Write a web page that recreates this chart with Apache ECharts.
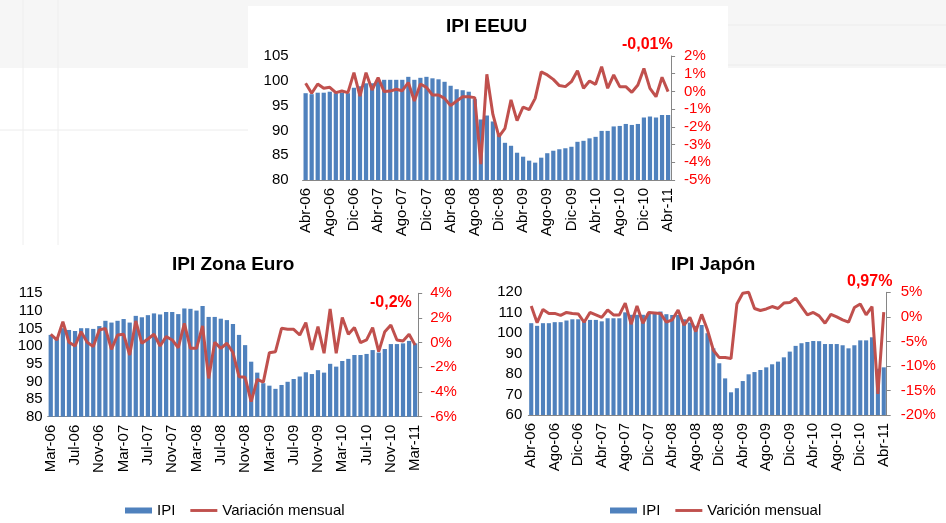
<!DOCTYPE html>
<html>
<head>
<meta charset="utf-8">
<title>IPI</title>
<script src="https://cdn.jsdelivr.net/npm/echarts@6/dist/echarts.min.js"></script>
<style>
html, body { margin: 0; padding: 0; background: #fff; }
#chart { width: 946px; height: 523px; }
</style>
</head>
<body>
<div id="chart"></div>
<script>
// meses en castellano para las etiquetas del eje
const mesesEs = ['Ene', 'Feb', 'Mar', 'Abr', 'May', 'Jun', 'Jul', 'Ago', 'Sep', 'Oct', 'Nov', 'Dic'];
function meses(mesIni, anioIni, n) {
  const out = [];
  for (let i = 0; i < n; i++) {
    const m = (mesIni + i) % 12;
    const a = anioIni + Math.floor((mesIni + i) / 12);
    out.push(mesesEs[m] + '-' + String(a).slice(2));
  }
  return out;
}
const catAbr = meses(3, 2006, 61); // Abr-06 .. Abr-11
const catMar = meses(2, 2006, 61); // Mar-06 .. Mar-11

// EEUU
const usaIpi = [97.5, 97.3, 97.6, 97.6, 97.8, 97.5, 97.6, 97.5, 98.6, 98.9,
  99.5, 99.5, 100.2, 100.2, 100.2, 100.2, 100.2, 100.8, 100.2, 100.6,
  100.8, 100.5, 100.3, 99.8, 99.0, 98.3, 98.1, 97.8, 96.3, 92.2,
  93.0, 91.8, 89.2, 87.5, 86.9, 85.5, 84.7, 83.9, 83.5, 84.5,
  85.4, 85.9, 86.2, 86.4, 86.7, 87.7, 87.9, 88.4, 88.7, 89.9,
  89.9, 90.8, 90.9, 91.3, 91.1, 91.3, 92.6, 92.8, 92.6, 93.1, 93.1];
const usaVar = [0.46, -0.1, 0.42, 0.18, 0.23, -0.07, 0.02, -0.07, 1.06, -0.26,
  1.06, 0.08, 0.78, -0.01, 0.02, 0.12, 0.04, 0.5, -0.54, 0.42,
  0.23, -0.2, -0.2, -0.39, -0.8, -0.54, -0.3, -0.3, -0.35, -4.1,
  0.97, -1.3, -2.55, -2.08, -0.48, -1.65, -0.88, -1.03, -0.39, 1.1,
  0.93, 0.68, 0.33, 0.27, 0.55, 1.17, 0.18, 0.59, 0.4, 1.4,
  0.18, 0.93, 0.27, 0.27, -0.05, 0.36, 1.3, 0.17, -0.3, 0.8, -0.01];

// Zona Euro
const euroIpi = [103.2, 102.4, 105.1, 104.6, 104.3, 105.1, 105.1, 104.9, 105.7, 107.2,
  106.7, 107.2, 107.7, 106.7, 108.6, 108.2, 108.8, 109.3, 109.0, 109.7,
  109.7, 109.1, 110.7, 110.6, 110.1, 111.4, 108.3, 108.3, 107.8, 107.4,
  106.3, 103.2, 100.3, 95.6, 92.5, 89.5, 88.8, 87.9, 89.0, 89.9,
  90.7, 91.4, 92.6, 92.1, 93.2, 92.5, 95.0, 94.2, 95.8, 96.4,
  97.5, 97.5, 97.8, 98.9, 98.2, 99.2, 100.6, 100.6, 100.8, 101.5, 100.8];
const euroVar = [0.68, 0.22, 1.7, 0.03, -0.27, 0.89, 0.03, -0.32, 1.03, 1.16,
  -0.54, 0.62, 0.68, -1.0, 1.76, -0.05, 0.3, 0.68, -0.27, 0.49,
  0.22, -0.41, 1.57, -0.46, -0.46, 1.35, -2.9, 0.03, -0.46, -0.05,
  -0.8, -2.76, -2.81, -4.78, -2.97, -3.2, -0.81, -0.73, 1.16, 1.08,
  1.08, 0.62, 1.62, -0.59, 1.3, -0.86, 2.73, -0.86, 2.03, 0.68,
  1.22, 0.0, 0.22, 1.22, -0.73, 0.89, 1.43, 0.22, 0.14, 0.68, -0.2];

// Japón
const japonIpi = [104.9, 103.6, 104.9, 104.9, 105.4, 105.4, 106.2, 106.8, 106.8, 105.5,
  106.5, 106.5, 105.8, 107.3, 107.3, 107.3, 110.2, 109.0, 109.0, 109.0,
  109.8, 109.8, 110.6, 109.3, 108.9, 108.9, 106.8, 105.2, 103.6, 104.0,
  100.0, 92.6, 85.3, 77.9, 71.1, 73.1, 76.6, 79.9, 81.0, 82.0,
  83.3, 84.8, 86.1, 88.2, 91.0, 93.8, 95.1, 95.7, 96.2, 96.1,
  94.7, 94.7, 94.7, 94.1, 92.6, 94.1, 96.5, 96.5, 98.0, 82.6, 83.3];
const japonVar = [2.2, -1.2, 1.5, 0.7, 0.7, 0.3, 0.9, 0.7, 0.6, -1.1,
  0.9, 0.4, -0.1, 1.4, 0.4, 0.4, 2.8, -1.5, 2.2, -1.3,
  0.9, 0.8, 0.7, -1.1, -0.6, 1.4, -1.7, -0.1, -3.0, 0.5,
  -2.7, -6.8, -8.3, -8.3, -8.5, 2.6, 4.8, 5.0, 1.7, 1.3,
  1.6, 2.1, 1.7, 2.8, 2.9, 3.8, 2.1, 0.4, 0.9, 0.2,
  -1.3, 0.5, 0.0, -0.6, -1.1, 1.9, 2.6, 0.4, 2.1, -15.7, 0.97];

const fuente = 'Liberation Sans, Arial, sans-serif';
const azul = '#4F81BD';
const rojo = '#C0504D';
const gris = '#868686';

function ejeX(idx, data) {
  return {
    type: 'category', gridIndex: idx, data: data,
    axisLine: { onZero: false, lineStyle: { color: gris } },
    axisTick: { show: false },
    axisLabel: { interval: 3, rotate: 90, fontSize: 15, color: '#000', margin: 8, fontFamily: fuente }
  };
}
function ejeIzq(idx, min, max, step, margin) {
  return {
    type: 'value', gridIndex: idx, position: 'left', min: min, max: max, interval: step,
    splitLine: { show: false }, axisLine: { show: false }, axisTick: { show: false },
    axisLabel: { fontSize: 15, color: '#000', margin: margin, fontFamily: fuente }
  };
}
function ejeDer(idx, min, max, step, margin) {
  return {
    type: 'value', gridIndex: idx, position: 'right', min: min, max: max, interval: step,
    splitLine: { show: false },
    axisLine: { show: true, lineStyle: { color: gris } },
    axisTick: { show: true, length: 4, lineStyle: { color: gris } },
    axisLabel: { formatter: '{value}%', fontSize: 15, color: '#ff0000', margin: margin, fontFamily: fuente }
  };
}
function barras(idx, data) {
  return {
    type: 'bar', name: 'IPI', xAxisIndex: idx, yAxisIndex: idx * 2,
    data: data, barCategoryGap: '30%', itemStyle: { color: azul }
  };
}
function linea(idx, nombre, data) {
  return {
    type: 'line', name: nombre, xAxisIndex: idx, yAxisIndex: idx * 2 + 1,
    data: data, symbol: 'none', clip: false, z: 3,
    lineStyle: { width: 3, color: rojo }, itemStyle: { color: rojo }
  };
}
function titulo(texto, left, top) {
  return {
    text: texto, left: left, top: top, padding: 0,
    textStyle: { fontSize: 19, fontWeight: 'bold', color: '#000', fontFamily: fuente }
  };
}
function nota(texto, left, top) {
  return {
    type: 'text', left: left, top: top, z: 100,
    style: { text: texto, fill: '#ff0000', font: 'bold 16px ' + fuente }
  };
}
function leyenda(left, nombreLinea) {
  return {
    left: left, top: 503, padding: 0, itemGap: 15, itemWidth: 27, itemHeight: 6,
    textStyle: { fontSize: 15, color: '#000', fontFamily: fuente },
    data: [
      { name: 'IPI', icon: 'rect' },
      { name: nombreLinea, icon: 'path://M0,0H28V3H0Z', itemStyle: { color: rojo } }
    ]
  };
}

const chart = echarts.init(document.getElementById('chart'));
chart.setOption({
  animation: false,
  backgroundColor: '#fff',
  title: [
    titulo('IPI EEUU', 446, 17),
    titulo('IPI Zona Euro', 172, 255),
    titulo('IPI Japón', 671, 255)
  ],
  legend: [
    leyenda(125, 'Variación mensual'),
    leyenda(610, 'Varición mensual')
  ],
  grid: [
    { left: 302.6, top: 56, width: 368.5, height: 124, outerBoundsMode: 'none' },
    { left: 47.7, top: 293.3, width: 370.5, height: 123.4, outerBoundsMode: 'none' },
    { left: 528.3, top: 292.3, width: 358.4, height: 122.7, outerBoundsMode: 'none' }
  ],
  xAxis: [ejeX(0, catAbr), ejeX(1, catMar), ejeX(2, catAbr)],
  yAxis: [
    ejeIzq(0, 80, 105, 5, 14), ejeDer(0, -5, 2, 1, 13),
    ejeIzq(1, 80, 115, 5, 5), ejeDer(1, -6, 4, 2, 12),
    ejeIzq(2, 60, 120, 10, 6), ejeDer(2, -20, 5, 5, 14)
  ],
  series: [
    barras(0, usaIpi), linea(0, 'Variación mensual', usaVar),
    barras(1, euroIpi), linea(1, 'Variación mensual', euroVar),
    barras(2, japonIpi), linea(2, 'Varición mensual', japonVar)
  ],
  graphic: [
    // fondo de la diapositiva
    { type: 'rect', silent: true, z: -10, shape: { x: 0, y: 0, width: 946, height: 68 }, style: { fill: '#f6f6f6' } },
    { type: 'line', silent: true, z: -9, shape: { x1: 0, y1: 130, x2: 248, y2: 130 }, style: { stroke: '#ececec', lineWidth: 1 } },
    { type: 'line', silent: true, z: -9, shape: { x1: 23, y1: 0, x2: 23, y2: 245 }, style: { stroke: '#eeeeee', lineWidth: 1 } },
    { type: 'line', silent: true, z: -9, shape: { x1: 58, y1: 0, x2: 58, y2: 245 }, style: { stroke: '#eeeeee', lineWidth: 1 } },
    { type: 'line', silent: true, z: -9, shape: { x1: 728, y1: 25, x2: 946, y2: 25 }, style: { stroke: '#ececec', lineWidth: 1 } },
    { type: 'line', silent: true, z: -9, shape: { x1: 728, y1: 65, x2: 946, y2: 65 }, style: { stroke: '#ececec', lineWidth: 1 } },
    { type: 'rect', silent: true, z: -8, shape: { x: 248, y: 6, width: 480, height: 244 }, style: { fill: '#fff' } },
    // ultimo dato
    nota('-0,01%', 622, 37),
    nota('-0,2%', 370, 295),
    nota('0,97%', 847, 274)
  ]
});
</script>
</body>
</html>
